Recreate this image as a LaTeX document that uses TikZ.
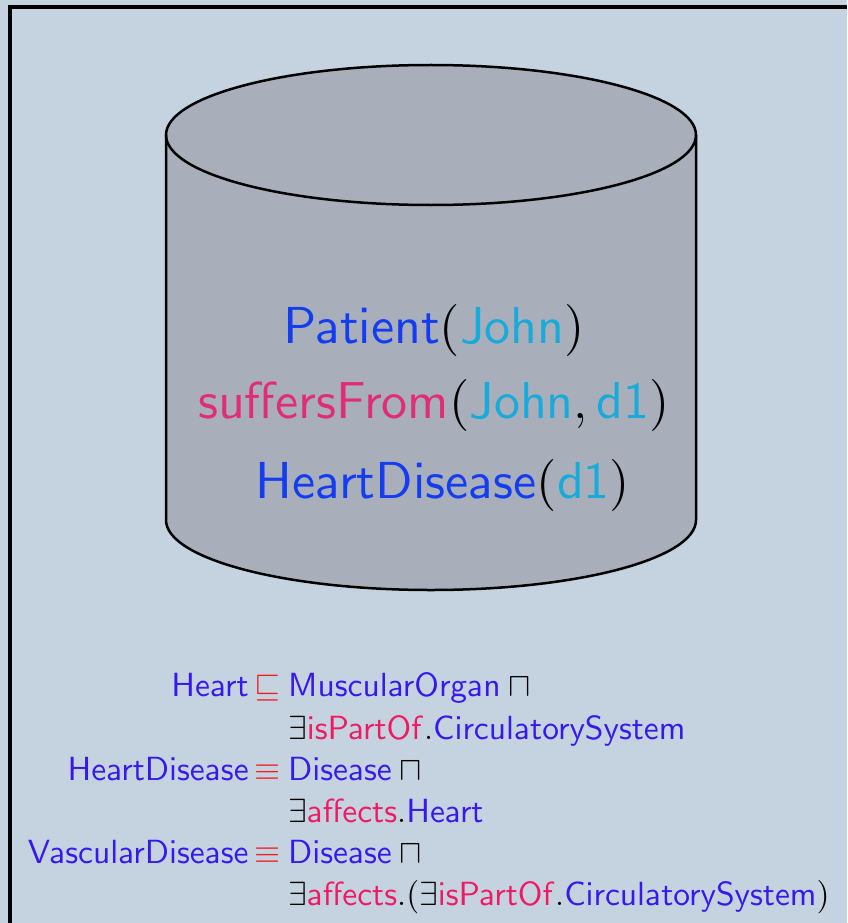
\RequirePackage{fix-cm}
\documentclass[tikz,border=0pt]{standalone}
\usepackage{amsmath}
\usepackage{tikz}
\usetikzlibrary{positioning}

% one design size for every size, as in the slide
\DeclareFontShape{OT1}{cmss}{m}{n}{<->cmss10}{}
\DeclareFontShape{OT1}{cmr}{m}{n}{<->cmr10}{}

\definecolor{bgblue}{RGB}{197,211,224}
\definecolor{cylgray}{RGB}{168,175,186}
\definecolor{indblue}{RGB}{20,60,240}
\definecolor{indcyan}{RGB}{25,170,220}
\definecolor{rolepink}{RGB}{225,45,120}
\definecolor{conblue}{RGB}{55,25,240}
\definecolor{tboxpink}{RGB}{240,25,100}
\definecolor{relred}{RGB}{240,30,30}

% assertions in the store
\newcommand{\aind}[1]{\textcolor{indcyan}{\mathsf{#1}}}
\newcommand{\acon}[1]{\textcolor{indblue}{\mathsf{#1}}}
\newcommand{\arol}[1]{\textcolor{rolepink}{\mathsf{#1}}}
% terminology
\newcommand{\tcon}[1]{\textcolor{conblue}{\mathsf{#1}}}
\newcommand{\trol}[1]{\textcolor{tboxpink}{\mathsf{#1}}}

\tikzset{
  abox/.style={anchor=base, inner sep=0pt, font=\fontsize{52}{60}\selectfont},
  tbox/.style={inner sep=0pt, font=\fontsize{33.5}{41}\selectfont},
}

\begin{document}
\begin{tikzpicture}[x=1pt, y=-1pt]
\useasboundingbox (0,0) rectangle (847,923);
\fill[bgblue] (0,0) rectangle (847,923);
\draw[line width=4pt] (10,923) -- (10,7) -- (847,7);

    % the store
    \fill[cylgray] (166,135) -- (166,520) arc (180:0:265 and 70)
        -- (696,135) arc (0:-180:265 and 70) -- cycle;
    \draw[line width=2.5pt] (431,135) ellipse (265 and 70);
    \draw[line width=2.5pt] (166,135) -- (166,520) arc (180:0:265 and 70) -- (696,135);

    \node[abox] (patient) at (434,343) {$\acon{Patient}(\aind{John})$};
    \node[abox] (suffers) at (434,418) {$\arol{suffersFrom}(\aind{John},\aind{d1})$};
    \node[abox] (heartdis) at (443,498) {$\acon{HeartDisease}(\aind{d1})$};

    % the axioms
    \node[tbox, anchor=base east] (lhs1) at (249,696) {$\tcon{Heart}$};
    \node[tbox, anchor=base] (rel1) at (268,696) {$\textcolor{relred}{\sqsubseteq}$};
    \node[tbox, anchor=base west] (rhs1) at (288,696) {$\tcon{MuscularOrgan}\sqcap{}$};
    \node[tbox, anchor=base west] (rhs1b) at (288,739) {$\exists\trol{isPartOf}.\tcon{CirculatorySystem}$};

    \node[tbox, anchor=base east] (lhs2) at (249,780) {$\tcon{HeartDisease}$};
    \node[tbox, anchor=base] (rel2) at (268,780) {$\textcolor{relred}{\equiv}$};
    \node[tbox, anchor=base west] (rhs2) at (288,780) {$\tcon{Disease}\sqcap{}$};
    \node[tbox, anchor=base west] (rhs2b) at (288,822) {$\exists\trol{affects}.\tcon{Heart}$};

    \node[tbox, anchor=base east] (lhs3) at (249,863) {$\tcon{VascularDisease}$};
    \node[tbox, anchor=base] (rel3) at (268,863) {$\textcolor{relred}{\equiv}$};
    \node[tbox, anchor=base west] (rhs3) at (288,863) {$\tcon{Disease}\sqcap{}$};
    \node[tbox, anchor=base west] (rhs3b) at (288,905) {$\exists\trol{affects}.(\exists\trol{isPartOf}.\tcon{CirculatorySystem})$};
\end{tikzpicture}
\end{document}
